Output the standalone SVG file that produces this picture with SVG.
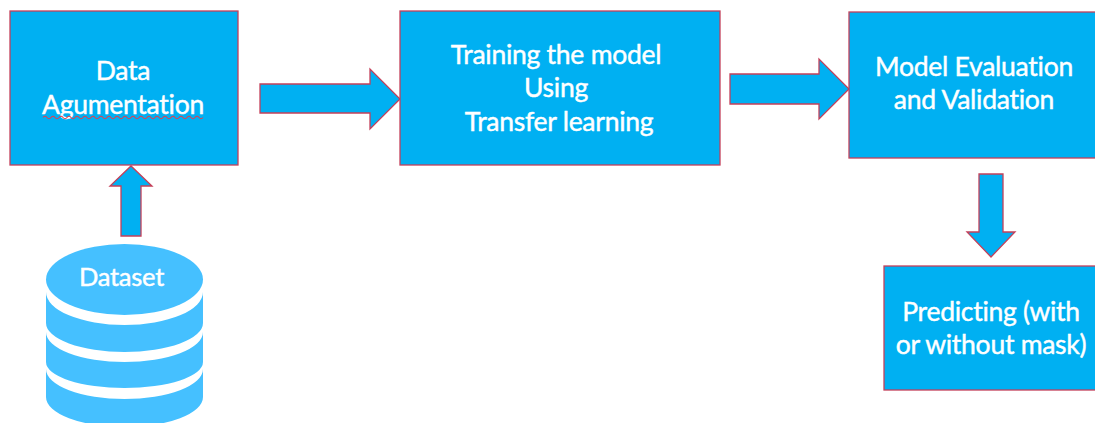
<svg xmlns="http://www.w3.org/2000/svg" width="1095" height="423" viewBox="0 0 1095 423">
<style>
.b{fill:#00b0f2;stroke:#c4405a;stroke-width:1.3}
.a{fill:#00b0f2;stroke:#c4405a;stroke-width:1.3;stroke-linejoin:miter}
.t{font-family:Lato,"Open Sans","Liberation Sans",sans-serif;font-size:26.500px;fill:#fff;stroke:#fff;stroke-width:.45px;text-anchor:middle;letter-spacing:-.26px}
.d{fill:#45c0ff}
</style>
<rect width="1095" height="423" fill="#fff"/>
<g id="connectors">
<path class="a" d="M121 236V186H110L131 166L152 186H141V236Z"/>
<path class="a" d="M260 84H370V69L400 99L370 129V113H260Z"/>
<path class="a" d="M730 74H819V59L849 89L819 119V104H730Z"/>
<path class="a" d="M979 174H1003V232H1015L991 257L967 232H979Z"/>
</g>
<g id="data-augmentation">
<rect class="b" x="10" y="11" width="228" height="154"/>
<text class="t" x="123" y="80">Data</text>
<text class="t" x="123" y="114">Agumentation</text>
<path d="M43 117.500q2 -2.400 4 0t4 0t4 0t4 0t4 0t4 0t4 0t4 0t4 0t4 0t4 0t4 0t4 0t4 0t4 0t4 0t4 0t4 0t4 0t4 0t4 0t4 0t4 0t4 0t4 0t4 0t4 0t4 0t4 0t4 0t4 0t4 0t4 0t4 0t4 0t4 0t4 0t4 0t4 0t4 0" fill="none" stroke="#e0404f" stroke-width="1.100"/>
</g>
<g id="training">
<rect class="b" x="400" y="11" width="320" height="154"/>
<text class="t" x="556" y="64">Training the model</text>
<text class="t" x="556" y="97">Using</text>
<text class="t" x="559" y="131">Transfer learning</text>
</g>
<g id="evaluation">
<rect class="b" x="849" y="12" width="250" height="146"/>
<text class="t" x="974" y="76">Model Evaluation</text>
<text class="t" x="974" y="109">and Validation</text>
</g>
<g id="predicting">
<rect class="b" x="884" y="266" width="215" height="124"/>
<text class="t" x="991" y="321">Predicting (with</text>
<text class="t" x="991" y="354">or without mask)</text>
</g>
<g id="dataset">
<path class="d" d="M46 292A78.500 33 0 0 0 203 292V323A78.500 29 0 0 1 46 323Z"/>
<path class="d" d="M46 332A78.500 30 0 0 0 203 332V362A78.500 26 0 0 1 46 362Z"/>
<path class="d" d="M46 369A78.500 30 0 0 0 203 369V397A78.500 30 0 0 1 46 397Z"/>
<ellipse class="d" cx="124.500" cy="279.500" rx="78.500" ry="35.500"/>
<text class="t" x="121.500" y="286" style="font-size:25.500px">Dataset</text>
</g>
</svg>
